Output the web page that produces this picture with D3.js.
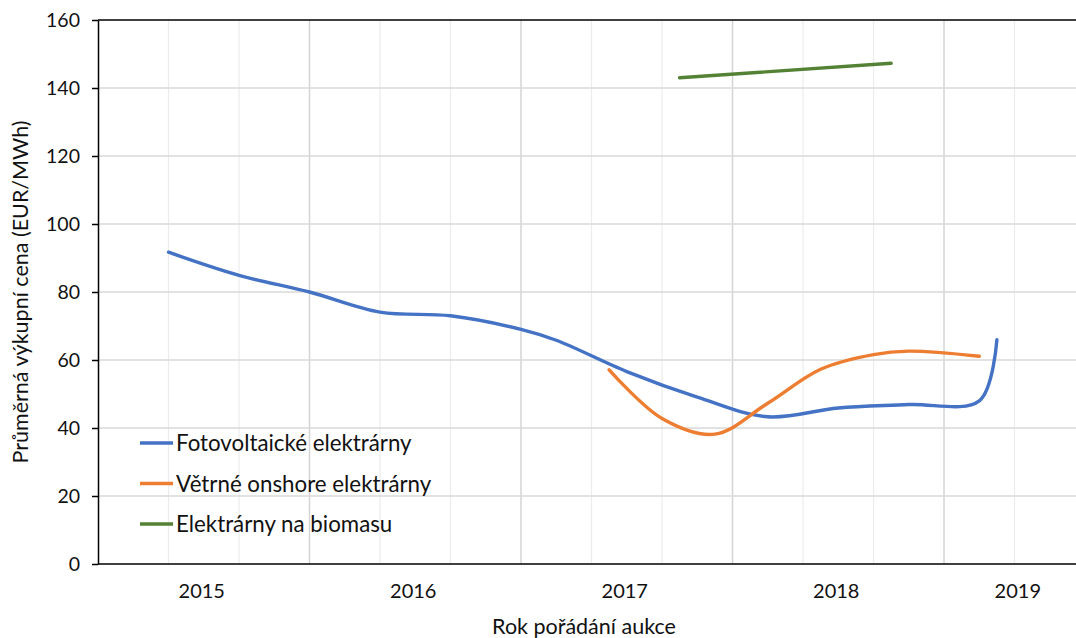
<!DOCTYPE html>
<html>
<head>
<meta charset="utf-8">
<script src="https://cdn.jsdelivr.net/npm/d3@7"></script>
<style>
  html, body { margin: 0; padding: 0; background: #fff; }
  svg { display: block; font-family: Lato, "Open Sans", sans-serif; }
</style>
</head>
<body>
<svg id="chart" width="1076" height="638"></svg>
<script>
// Average auction prices (EUR/MWh) by auction month
const pvDates   = ["2015-04","2015-08","2015-12","2016-04","2016-08","2016-12","2017-02","2017-06","2017-10","2018-02","2018-06","2018-10","2019-02","2019-03"];
const pvValues  = [91.7, 84.9, 80.0, 74.1, 73.0, 69.0, 65.8, 56.6, 49.1, 43.3, 45.9, 46.9, 48.0, 66.0];

const windDates  = ["2017-05","2017-08","2017-11","2018-02","2018-05","2018-08","2018-10","2019-02"];
const windValues = [57.1, 42.8, 38.2, 47.3, 57.3, 61.6, 62.6, 61.1];

const bioDates  = ["2017-09","2018-09"];
const bioValues = [143.0, 147.3];

const seriesNames  = ["Fotovoltaické elektrárny", "Větrné onshore elektrárny", "Elektrárny na biomasu"];
const seriesColors = ["#4472C4", "#ED7D31", "#548235"];

const yTicks = [0, 20, 40, 60, 80, 100, 120, 140, 160];
const years  = ["2015", "2016", "2017", "2018", "2019"];

const yTitle = "Průměrná výkupní cena (EUR/MWh)";
const xTitle = "Rok pořádání aukce";

// month index counted from January 2015
const monthIndex = s => { const [yr, mo] = s.split("-").map(Number); return (yr - 2015) * 12 + (mo - 1); };

const svg = d3.select("#chart");
const plotLeft = 98, plotTop = 20, plotBottom = 564, plotRight = 1095.6;

const x = d3.scaleLinear().domain([-1, 55.6]).range([plotLeft, plotRight]);
const y = d3.scaleLinear().domain([0, 160]).range([plotBottom, plotTop]);

// vertical gridlines: every 4 months, darker at each December
const vMinor = d3.range(-1, 56, 4).filter(m => (m + 1) % 12 !== 0);
const vMajor = d3.range(11, 56, 12);
svg.append("g").selectAll("line").data(vMinor).join("line")
  .attr("x1", d => x(d)).attr("x2", d => x(d))
  .attr("y1", plotTop).attr("y2", plotBottom)
  .attr("stroke", "#ececec").attr("stroke-width", 1.2);
svg.append("g").selectAll("line").data(vMajor).join("line")
  .attr("x1", d => x(d)).attr("x2", d => x(d))
  .attr("y1", plotTop).attr("y2", plotBottom)
  .attr("stroke", "#d4d4d4").attr("stroke-width", 1.5);

// horizontal gridlines
svg.append("g").selectAll("line").data(yTicks.filter(v => v > 0 && v < 160)).join("line")
  .attr("x1", plotLeft).attr("x2", 1076)
  .attr("y1", d => y(d)).attr("y2", d => y(d))
  .attr("stroke", "#d9d9d9").attr("stroke-width", 1.5);

// top border
svg.append("line").attr("x1", plotLeft).attr("x2", 1076)
  .attr("y1", y(160)).attr("y2", y(160))
  .attr("stroke", "#000").attr("stroke-width", 1.5);

// y axis
const yAxis = svg.append("g").attr("transform", `translate(${plotLeft},0)`)
  .call(d3.axisLeft(y).tickValues(yTicks).tickSize(6).tickPadding(12).tickSizeOuter(0));
yAxis.select(".domain").attr("stroke", "#000").attr("stroke-width", 1.5);
yAxis.selectAll(".tick line").attr("stroke", "#000").attr("stroke-width", 1.5);
yAxis.selectAll("text").attr("font-size", 19.5).attr("fill", "#111")
  .attr("font-family", "Lato, sans-serif");

// x axis line
svg.append("line").attr("x1", plotLeft).attr("x2", 1076)
  .attr("y1", plotBottom).attr("y2", plotBottom)
  .attr("stroke", "#000").attr("stroke-width", 1.5);

// year labels, centred in the visible part of each year band
svg.append("g").selectAll("text").data(years).join("text")
  .attr("x", (d, i) => {
    const a = -1 + 12 * i, b = Math.min(a + 12, x.domain()[1]);
    return x((a + b) / 2) - 2;
  })
  .attr("y", 598)
  .attr("text-anchor", "middle")
  .attr("font-size", 20)
  .attr("fill", "#111")
  .text(d => d);

// axis titles
svg.append("text")
  .attr("transform", `translate(28,${(plotTop + plotBottom) / 2}) rotate(-90)`)
  .attr("text-anchor", "middle")
  .attr("font-size", 21.5)
  .attr("fill", "#111")
  .text(yTitle);
svg.append("text")
  .attr("x", 584).attr("y", 634)
  .attr("text-anchor", "middle")
  .attr("font-size", 21.5)
  .attr("fill", "#111")
  .text(xTitle);

// series lines
const series = [
  { dates: pvDates,   values: pvValues },
  { dates: windDates, values: windValues },
  { dates: bioDates,  values: bioValues }
];
const line = d3.line()
  .x(d => x(d[0])).y(d => y(d[1]))
  .curve(d3.curveCatmullRom.alpha(0.5));

svg.append("g").selectAll("path").data(series).join("path")
  .attr("d", s => line(s.dates.map((dt, i) => [monthIndex(dt), s.values[i]])))
  .attr("fill", "none")
  .attr("stroke", (s, i) => seriesColors[i])
  .attr("stroke-width", 3.4)
  .attr("stroke-linecap", "round")
  .attr("stroke-linejoin", "round");

// legend
const legend = svg.append("g").selectAll("g").data(seriesNames).join("g")
  .attr("transform", (d, i) => `translate(140,${443 + i * 40.5})`);
legend.append("line")
  .attr("x1", 0).attr("x2", 33).attr("y1", 0).attr("y2", 0)
  .attr("stroke", (d, i) => seriesColors[i]).attr("stroke-width", 3.4);
legend.append("text")
  .attr("x", 36).attr("y", 8)
  .attr("font-size", 22.3)
  .attr("fill", "#111")
  .text(d => d);
</script>
</body>
</html>
